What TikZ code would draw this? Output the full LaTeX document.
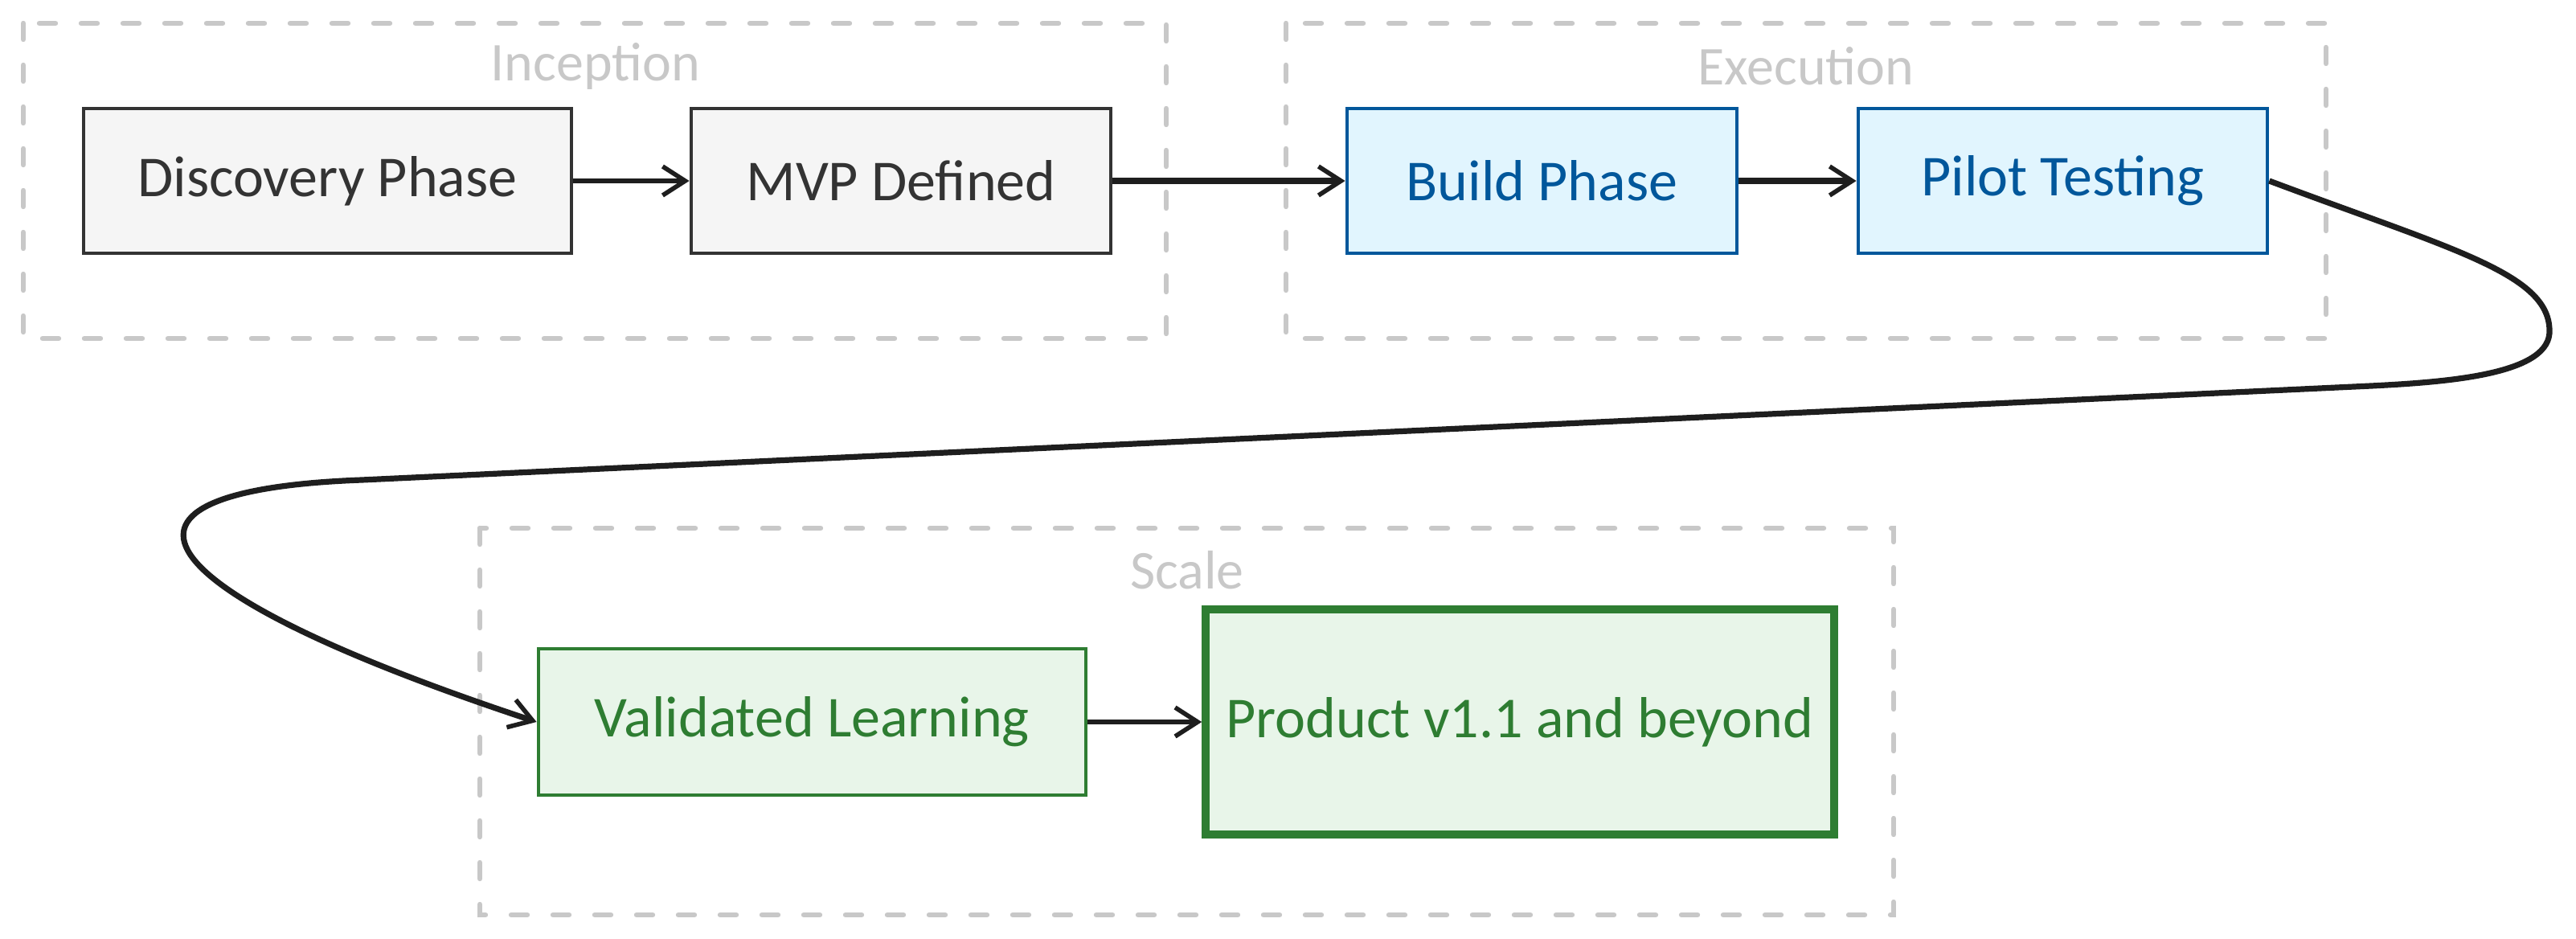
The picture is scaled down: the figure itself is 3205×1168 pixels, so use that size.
\documentclass[tikz,border=0pt]{standalone}
\usepackage{fontspec}
\setmainfont{Carlito}
\usetikzlibrary{arrows.meta}
\definecolor{grayfill}{HTML}{F5F5F5}
\definecolor{graydraw}{HTML}{333333}
\definecolor{bluefill}{HTML}{E1F5FE}
\definecolor{bluedraw}{HTML}{01579B}
\definecolor{greenfill}{HTML}{E8F5E9}
\definecolor{greendraw}{HTML}{2E7D32}
\definecolor{clustergray}{HTML}{C8C8C8}
\definecolor{linkcol}{HTML}{1E1E1E}
\tikzset{
  box/.style={rectangle, inner sep=0pt, line width=1.2pt, font=\fontsize{18}{21}\selectfont},
  graybox/.style={box, fill=grayfill, draw=graydraw, text=graydraw},
  bluebox/.style={box, fill=bluefill, draw=bluedraw, text=bluedraw},
  greenbox/.style={box, fill=greenfill, draw=greendraw, text=greendraw},
  cluster/.style={draw=clustergray, line width=1.6pt, dash pattern=on 5pt off 8pt, line cap=round},
  clusterlabel/.style={text=clustergray, font=\fontsize{17}{20}\selectfont, inner sep=0pt},
  link/.style={draw=linkcol, line width=1.6pt, -{Straight Barb[length=7pt,width=9pt,line width=1.4pt]}},
}
\begin{document}
\begin{tikzpicture}[x=0.25pt,y=-0.25pt]
\useasboundingbox (0,0) rectangle (3205,1168);
% clusters
\draw[cluster] (29,29) rectangle (1451,421);
\draw[cluster] (1600,29) rectangle (2894,421);
\draw[cluster] (597,657) rectangle (2356,1138);
\node[clusterlabel] (lInception) at (741,82) {Inception};
\node[clusterlabel] (lExecution) at (2247,82) {Execution};
\node[clusterlabel] (lScale) at (1477,709) {Scale};
% nodes
\node[graybox, minimum width=151.75pt, minimum height=45pt] (discovery) at (407.5,225) {Discovery Phase};
\node[graybox, minimum width=130.5pt, minimum height=45pt] (mvp) at (1121,225) {MVP Defined};
\node[bluebox, minimum width=121.25pt, minimum height=45pt] (build) at (1918.5,225) {Build Phase};
\node[bluebox, minimum width=127.25pt, minimum height=45pt] (pilot) at (2566.5,225) {Pilot Testing};
\node[greenbox, minimum width=170.25pt, minimum height=45.5pt] (validated) at (1010.5,898) {Validated Learning};
\node[greenbox, line width=2.4pt, minimum width=195.5pt, minimum height=70pt] (product) at (1891,898) {Product v1.1 and beyond};
% connectors
\draw[link] (discovery) -- (mvp);
\draw[link, line width=2pt] (mvp) -- (build);
\draw[link, line width=2pt] (build) -- (pilot);
\draw[link, line width=1.8pt] (pilot.east) .. controls (3050,310) and (3170,340) .. (3172,410)
  .. controls (3175,465) and (3050,475) .. (2950,480)
  -- (450,597) .. controls (100,610) and (160,730) .. (validated.west);
\draw[link] (validated) -- (product);
\end{tikzpicture}
\end{document}
